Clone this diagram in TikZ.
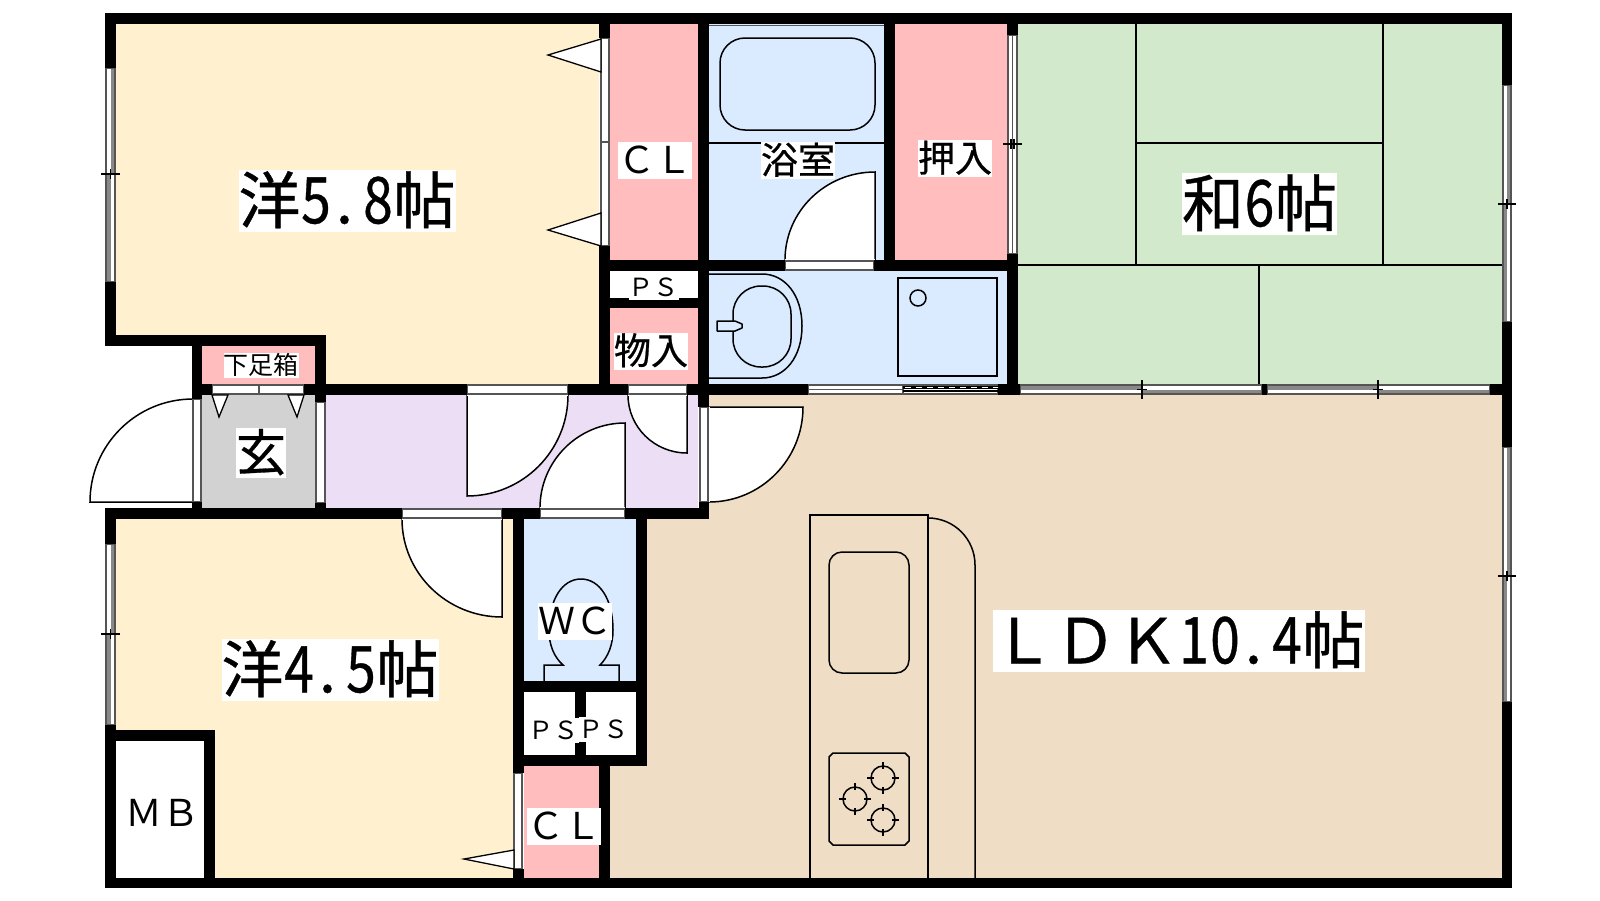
\documentclass[tikz,border=0pt]{standalone}
\usepackage{graphicx}
\usepackage{fontspec}
\usetikzlibrary{calc}
\setmainfont{Noto Sans CJK JP}
\newfontfamily\heavyf[FakeBold=0.6]{Noto Sans CJK JP}
\definecolor{cream}{RGB}{255,241,208}
\definecolor{pinkc}{RGB}{255,189,189}
\definecolor{bluec}{RGB}{218,235,255}
\definecolor{greenc}{RGB}{211,233,204}
\definecolor{tanc}{RGB}{239,222,197}
\definecolor{lavc}{RGB}{236,222,245}
\definecolor{grayc}{RGB}{210,210,210}
\definecolor{wingray}{RGB}{85,85,85}
\tikzset{
  lab/.style={fill=white,inner sep=0pt,outer sep=0pt,font=\fontsize{#1}{#1}\selectfont,
    text height={0.86*#1 pt},text depth={0.14*#1 pt},minimum height={#1 pt}},
  ln/.style={draw=black,line width=1.5pt},
  thin line/.style={draw=black,line width=1.1pt},
  doorline/.style={draw=black,fill=white,line width=1.5pt},
  winline/.style={draw=wingray,line width=1.4pt},
  crossline/.style={draw=black,line width=1.2pt},
  tri/.style={draw=black,fill=white,line width=1.3pt,line join=miter}
}
\newcommand\rc[5]{\fill[#1] (#2,#3) rectangle (#4,#5);}
\newcommand\wall[4]{\fill[black] (#1,#2) rectangle (#3,#4);}
% door: hinge, leaf end, arc end
\newcommand\doorq[6]{%
  \coordinate (dh) at (#1,#2); \coordinate (ds) at (#3,#4); \coordinate (de) at (#5,#6);
  \path[doorline] (dh) -- (ds) .. controls ($(ds)+0.5523*(de)-0.5523*(dh)$) and ($(de)+0.5523*(ds)-0.5523*(dh)$) .. (de) -- cycle;
  \draw[line width=1.5pt,white] (dh) -- (de);}
% plain strips
\newcommand\strip[4]{\path[winline,fill=white] (#1,#2) rectangle (#3,#4);}
% vertical window with meeting rail
\newcommand\vwin[5]{% x1 x2 y1 yc y2
  \strip{#1}{#3}{#2}{#5}
  \fill[wingray!70] ($(#1,#3)!.5!(#2,#3)$) rectangle (#2,#4);
  \fill[wingray!70] (#1,#4) rectangle ($(#1,#5)!.5!(#2,#5)$);
  \path[winline] (#1,#3) rectangle (#2,#5);
  \path[crossline] ($(#1,#4)+(-5,0)$) -- ($(#2,#4)+(5,0)$);
  \path[crossline] ($(#1,#4)!.5!(#2,#4)+(0,-5)$) -- ($(#1,#4)!.5!(#2,#4)+(0,5)$);}
% horizontal window with meeting rail
\newcommand\hwin[5]{% x1 xc x2 y1 y2
  \strip{#1}{#4}{#3}{#5}
  \fill[wingray!70] (#1,#4) rectangle ($(#2,#4)!.5!(#2,#5)$);
  \fill[wingray!70] ($(#2,#4)!.5!(#2,#5)$) rectangle (#3,#5);
  \path[winline] (#1,#4) rectangle (#3,#5);
  \path[crossline] ($(#2,#4)+(0,-5)$) -- ($(#2,#5)+(0,5)$);
  \path[crossline] ($(#2,#4)!.5!(#2,#5)+(-5,0)$) -- ($(#2,#4)!.5!(#2,#5)+(5,0)$);}
\newcommand\burner[2]{%
  \draw[ln] (#1,#2) circle[radius=12];
  \draw[crossline] (#1-16,#2)--(#1-9,#2) (#1+9,#2)--(#1+16,#2) (#1,#2-16)--(#1,#2-9) (#1,#2+9)--(#1,#2+16);}
\newcommand\hw[1]{\makebox[.5em][c]{\scalebox{.86}[1.04]{#1}}}
\newcommand\hp{\makebox[.5em][l]{\hspace{.07em}.}}
\begin{document}
\begin{tikzpicture}[x=1pt,y=-1pt]
\useasboundingbox (0,0) rectangle (1600,900);
\fill[white] (0,0) rectangle (1600,900);
% room fills
\rc{cream}{116}{24}{599}{335}
\rc{cream}{326}{335}{599}{384}
\rc{cream}{116}{519}{513}{878}
\rc{white}{116}{741}{204}{878}
\rc{pinkc}{610}{24}{698}{260}
\rc{bluec}{709}{24}{884}{260}
\rc{pinkc}{895}{24}{1007}{260}
\rc{greenc}{1018}{24}{1502}{384}
\rc{bluec}{709}{271}{1007}{384}
\rc{pinkc}{610}{308}{698}{384}
\rc{pinkc}{202}{346}{315}{384}
\rc{grayc}{202}{395}{315}{508}
\rc{lavc}{326}{395}{698}{508}
\rc{bluec}{524}{519}{636}{681}
\rc{pinkc}{524}{766}{599}{878}
\fill[tanc] (647,519)--(709,519)--(709,395)--(1502,395)--(1502,878)--(610,878)--(610,766)--(647,766)--cycle;
% tatami
\draw[ln] (1136,24)--(1136,265) (1383,24)--(1383,265) (1136,143)--(1383,143) (1018,265)--(1502,265) (1259,265)--(1259,384);
% doors
\doorq{193}{502}{90}{502}{193}{399}
\doorq{467}{395}{467}{496}{568}{395}
\doorq{687}{395}{687}{453}{628}{395}
\doorq{709}{407}{803}{407}{709}{502}
\doorq{625}{508}{625}{423}{540}{508}
\doorq{502}{519}{502}{617}{402}{519}
\doorq{875}{260}{875}{172}{785}{260}
% door strips
\strip{212}{385}{304}{394}
\draw[winline] (259,385)--(259,394);
\strip{467}{385}{568}{394}
\strip{628}{385}{687}{394}
\strip{402}{509}{502}{518}
\strip{540}{509}{625}{518}
\strip{785}{261}{874}{270}
\strip{193}{399}{201}{502}
\strip{316}{402}{325}{503}
\strip{700}{407}{708}{502}
\strip{514}{773}{522}{869}
\strip{601}{38}{609}{246}
\draw[winline] (601,142)--(609,142);
% closet triangles
\draw[tri] (601,39)--(548,55)--(601,72)--cycle;
\draw[tri] (601,213)--(548,230)--(601,246)--cycle;
\draw[tri] (212,395)--(219,417)--(228,395)--cycle;
\draw[tri] (288,395)--(297,417)--(304,395)--cycle;
\draw[tri] (514,850)--(464,859)--(514,869)--cycle;
% windows
\vwin{106}{115}{68}{174}{282}
\vwin{106}{115}{544}{634}{725}
\vwin{1503}{1511}{85}{204}{322}
\vwin{1503}{1511}{447}{576}{702}
\strip{1008}{35}{1017}{254}
\draw[winline] (1012.5,35)--(1012.5,254);
\draw[crossline] (1003,144)--(1022,144) (1011,139)--(1011,149) (1014,139)--(1014,149);
\hwin{1020}{1142}{1262}{385}{394}
\hwin{1267}{1378}{1490}{385}{394}
\strip{808}{385}{903}{394}
\draw[wingray,line width=1pt] (808,389.5)--(903,389.5);
\strip{903}{385}{998}{394}
\draw[black,line width=3pt] (903,387.5)--(998,387.5);
\draw[white,line width=1.5pt,dash pattern=on 6pt off 5pt] (905,387.5)--(998,387.5);
\draw[black,line width=1.5pt] (903,391)--(998,391);
% walls
\wall{105}{13}{1512}{24}
\wall{105}{878}{1512}{888}
\wall{105}{13}{116}{68}
\wall{105}{282}{116}{346}
\wall{105}{508}{116}{544}
\wall{105}{725}{116}{888}
\wall{1502}{13}{1512}{85}
\wall{1502}{322}{1512}{447}
\wall{1502}{702}{1512}{888}
\wall{105}{335}{326}{346}
\wall{192}{335}{202}{399}
\wall{192}{502}{202}{519}
\wall{315}{335}{326}{402}
\wall{315}{503}{326}{519}
\wall{192}{384}{212}{395}
\wall{304}{384}{467}{395}
\wall{568}{384}{628}{395}
\wall{687}{384}{808}{395}
\wall{998}{384}{1020}{395}
\wall{1262}{384}{1267}{395}
\wall{1490}{384}{1512}{395}
\wall{105}{508}{402}{519}
\wall{502}{508}{540}{519}
\wall{625}{508}{709}{519}
\wall{599}{13}{610}{38}
\wall{599}{246}{610}{395}
\wall{698}{13}{709}{407}
\wall{699}{502}{709}{519}
\wall{884}{13}{895}{271}
\wall{1007}{13}{1018}{35}
\wall{1007}{254}{1018}{395}
\wall{599}{260}{785}{271}
\wall{874}{260}{1018}{271}
\wall{610}{298}{698}{308}
\wall{513}{508}{524}{773}
\wall{513}{869}{524}{888}
\wall{636}{508}{647}{766}
\wall{513}{681}{647}{692}
\wall{575}{692}{586}{766}
\wall{513}{755}{647}{766}
\wall{599}{766}{610}{888}
\wall{105}{730}{215}{741}
\wall{204}{730}{215}{888}
% bath fixtures
\draw[ln,rounded corners=25pt] (720,38) rectangle (875,130);
\draw[thin line] (709,143)--(884,143);
\draw[wingray,line width=1pt] (709,25)--(884,25);
\draw[ln] (709,274)--(762,274) .. controls (785,274) and (802,295) .. (802,326) .. controls (802,357) and (785,378) .. (762,378) -- (709,378);
\draw[ln,rounded corners=28pt] (733,286) rectangle (791,367);
\draw[ln,fill=bluec,line join=round] (717,321)--(735,321)--(742,324)--(742,328)--(735,331)--(717,331)--cycle;
\draw[ln] (898,278) rectangle (997,376);
\draw[ln] (918,298) circle[radius=8];
% toilet
\draw[ln] (544,681)--(544,665)--(563,665) .. controls (554,657) and (549,645) .. (549,630) .. controls (549,600) and (562,579) .. (581,579) .. controls (600,579) and (613,600) .. (613,630) .. controls (613,645) and (608,657) .. (600,665) -- (619,665)--(619,681);
% kitchen
\draw[ln] (810,878)--(810,515)--(928,515)--(928,878);
\draw[ln] (928,518) .. controls (954,518) and (975,539) .. (975,565) -- (975,878);
\draw[ln,rounded corners=13pt] (829,552) rectangle (909,673);
\draw[ln] (833,753)--(905,753)--(909,757)--(909,841)--(905,845)--(833,845)--(829,841)--(829,757)--cycle;
\burner{883}{778}
\burner{855}{799}
\burner{883}{820}
% labels
\node[lab=62,minimum width=216pt] (yo58) at (347,201) {\heavyf 洋\hw{5}\hp\hw{8}帖};
\node[lab=62,minimum width=216pt] (yo45) at (330,670) {\heavyf 洋\hw{4}\hp\hw{5}帖};
\node[lab=62,minimum width=155pt] (wa6) at (1259.5,204) {\heavyf 和\hw{6}帖};
\node[lab=62,minimum width=371pt] (ldk) at (1178.5,641) {\heavyf ＬＤＫ\hw{1}\hw{0}\hp\hw{4}帖};
\node[lab=50,minimum width=50pt] (gen) at (261,453) {\heavyf 玄};
\node[lab=25,minimum width=74pt] (shoe) at (261,365.5) {下足箱};
\node[lab=37,minimum width=74pt] (cl1) at (655,160.5) {ＣＬ};
\node[lab=37,minimum width=74pt] (bath) at (798,160.5) {\heavyf 浴室};
\node[lab=37,minimum width=74pt] (oshi) at (955,158.5) {\heavyf 押入};
\node[lab=37,minimum width=74pt] (mono) at (651,351) {\heavyf 物入};
\node[lab=25,minimum width=49pt] (ps1) at (653.5,287) {ＰＳ};
\node[lab=37,minimum width=74pt] (wc) at (575,621.5) {ＷＣ};
\node[lab=25,minimum width=49pt] (ps2) at (553.5,730.5) {ＰＳ};
\node[lab=25,minimum width=49pt] (ps3) at (603.5,729.5) {ＰＳ};
\node[lab=37,minimum width=74pt] (cl2) at (564,826.5) {ＣＬ};
\node[lab=37,minimum width=74pt] (mb) at (162,813.5) {ＭＢ};
\end{tikzpicture}
\end{document}
